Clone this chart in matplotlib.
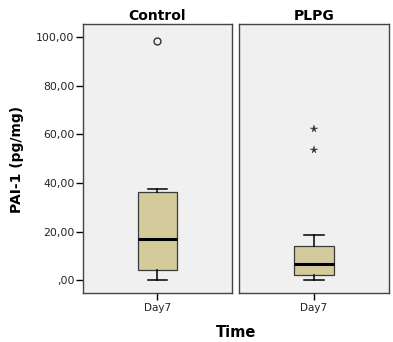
import matplotlib
matplotlib.use("Agg")
import matplotlib.pyplot as plt

plt.rcParams['font.family'] = ['DejaVu Sans']

# box summaries (PAI-1, pg/mg)
groups = ["Control", "PLPG"]
whislo = [0.0, 0.1]
q1 = [4.2, 2.3]
med = [16.9, 6.7]
q3 = [36.2, 14.0]
whishi = [37.3, 18.5]
outliers = [[98.3], []]          # circles
extremes = [[], [62.0, 53.5]]    # stars
yticks = [0, 20, 40, 60, 80, 100]
ytick_labels = [",00", "20,00", "40,00", "60,00", "80,00", "100,00"]

fig = plt.figure(figsize=(3.93, 3.42), dpi=100)
axes = [fig.add_axes([0.211, 0.143, 0.379, 0.787]),
        fig.add_axes([0.608, 0.143, 0.382, 0.787])]

for i, ax in enumerate(axes):
    ax.set_facecolor("#f0f0f0")
    stats = [dict(med=med[i], q1=q1[i], q3=q3[i], whislo=whislo[i],
                  whishi=whishi[i], fliers=[])]
    ax.bxp(stats, positions=[1], widths=0.26, patch_artist=True,
           showfliers=False,
           boxprops=dict(facecolor="#d3cb9c", edgecolor="#3a3a3a", lw=0.9),
           medianprops=dict(color="black", lw=2.2),
           whiskerprops=dict(color="black", lw=1.1),
           capprops=dict(color="black", lw=1.1))
    if outliers[i]:
        ax.plot([1] * len(outliers[i]), outliers[i], "o", ms=5,
                mfc="none", mec="#333333", mew=1.0)
    if extremes[i]:
        ax.plot([1] * len(extremes[i]), extremes[i], "*", ms=5.5,
                color="#333333", mew=0.3)
    ax.set_xlim(0.5, 1.5)
    ax.set_ylim(-5.3, 105.3)
    ax.set_xticks([1])
    ax.set_xticklabels(["Day7"], fontsize=7.5, color="#222222")
    ax.tick_params(axis="x", length=5, width=1, pad=2)
    ax.set_title(groups[i], fontsize=10, fontweight="bold", pad=3)
    for s in ax.spines.values():
        s.set_color("#444444")
        s.set_linewidth(1.0)
    if i == 0:
        ax.set_yticks(yticks)
        ax.set_yticklabels(ytick_labels, fontsize=7.8, color="#222222")
        ax.tick_params(axis="y", length=5, width=1, pad=1)
    else:
        ax.set_yticks([])

fig.text(0.042, 0.535, "PAI-1 (pg/mg)", rotation=90, ha="center",
         va="center", fontsize=10, fontweight="bold")
fig.text(0.600, 0.029, "Time", ha="center", va="center", fontsize=10.5,
         fontweight="bold")

fig.savefig("out.png", dpi=100)
